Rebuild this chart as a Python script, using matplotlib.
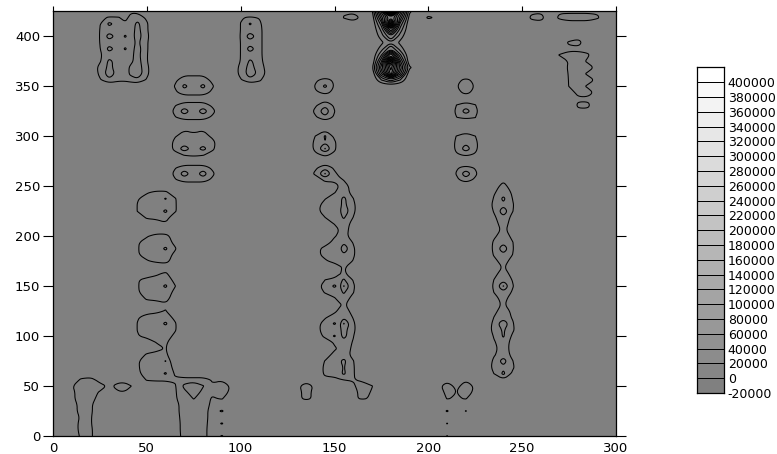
#!/usr/bin/env python
import numpy as np
import matplotlib
matplotlib.use('Agg')
import matplotlib.pyplot as plt
from matplotlib.path import Path

# grid nodes, z values below are in units of 5000
x_nodes = [0, 5, 10, 15, 20, 25, 30, 35, 38.5, 41.5, 45, 50, 55, 60, 65, 70, 75, 80, 85, 90, 95, 100,
           105, 110, 115, 120, 125, 130, 135, 140, 145, 150, 152.5, 155, 160, 165, 170, 175, 180, 185,
           190, 195, 200, 205, 210, 215, 220, 225, 230, 235, 240, 245, 250, 255, 260, 265, 270, 275,
           280, 285, 290, 295, 300]
y_step = 6.25
n_rows = 69

levels = [-20000, 0, 20000, 40000, 60000, 80000, 100000, 120000, 140000, 160000, 180000, 200000, 220000,
          240000, 260000, 280000, 300000, 320000, 340000, 360000, 380000, 400000, 420000]
x_ticks = [0, 50, 100, 150, 200, 250, 300]
y_ticks = [0, 50, 100, 150, 200, 250, 300, 350, 400]

# each patch: x nodes, first y, rows going upward
foot_x = [10, 15, 20, 25, 30, 35, 38.5, 41.5]
foot_y0 = 0
foot_z = [
    [0, 5, 5, 0, 0, 0, 0, 0],
    [0, 6, 5, 0, 0, 0, 0, 0],
    [0, 6, 4.5, 0, 0, 0, 0, 0],
    [0, 5, 4.5, 0, 0, 0, 0, 0],
    [0, 7, 5, 0, 0, 0, 0, 0],
    [0, 7, 5, 0, 0, 0, 0, 0],
    [3, 6, 6, 2, 0, 0, 0, 0],
    [3, 6, 6, 3.5, 0, 3.6, 3.6, 2],
    [3.7, 6, 6, 6, 3, 6, 6, 4.2],
    [0, 5, 6, 2, 0, 2, 2, 0],
]

base_x = [70, 75, 80, 85, 90, 95]
base_y0 = 0
base_z = [
    [6, 6, 6, 1, 4.5, 0],
    [6, 6, 6, 1, 0, 0],
    [6, 6, 6, 1.5, 4.5, 0],
    [6, 6, 6, 2, 0, 0],
    [6, 6, 6, 2, 4.7, 0],
    [6, 6, 6, 3, 0, 0],
    [6, 8.2, 6, 3.5, 4.5, 0],
    [7, 10, 7, 5, 6, 3],
    [9, 11, 8.2, 4.5, 6, 3.5],
    [6, 6, 6, 3.5, 3.6, 0],
]

ridge60_x = [45, 50, 55, 60, 65]
ridge60_y0 = 0
ridge60_z = [
    [0, 0, 0, 0, 1],
    [0, 0, 0, 0, 1.5],
    [0, 0, 0, 0, 1.5],
    [0, 0, 0, 0, 2],
    [0, 0, 0, 0, 2.5],
    [0, 0, 0, 0, 2.5],
    [0, 0, 0, 0, 3.5],
    [0, 0, 0, 0, 3.5],
    [0, 0, 0, 0, 3.5],
    [0, 4.5, 5, 5, 4.5],
    [3, 6, 6, 8.5, 3.5],
    [3.5, 6, 6, 6, 3],
    [3.5, 6, 6, 8.2, 0],
    [0, 5, 6, 5, 0],
    [0, 0, 2, 4.2, 0],
    [0, 0, 4.2, 5, 0],
    [3.5, 6, 6, 6, 3],
    [4.2, 6, 6, 6, 4.5],
    [4.2, 6, 6, 8.7, 4.5],
    [3.5, 6, 6, 6, 3],
    [0, 2, 3, 4.3, 0],
    [0, 0, 0, 3, 0],
    [0, 5, 6, 6, 1],
    [3.5, 6, 6, 6, 3],
    [3.7, 6, 6, 8.7, 4.2],
    [3.5, 6, 6, 6, 3],
    [0, 0, 3, 5, 0],
    [0, 0, 0, 0, 0],
    [0, 3.5, 5, 6, 1],
    [3.5, 6, 6, 6, 3],
    [3.7, 6, 6, 8.7, 4.5],
    [3.5, 6, 6, 6, 3],
    [0, 3.5, 6, 6, 1],
    [0, 0, 0, 0, 0],
    [0, 0, 0, 3.5, 0],
    [0, 5, 6, 6, 1],
    [4.2, 6, 6, 8.7, 4.6],
    [4.2, 6, 6, 6, 4.6],
    [3.6, 6, 6, 8.3, 4.5],
    [0, 3.5, 5, 5, 1],
]

pairs_x = [65, 70, 75, 80, 85]
pairs_y0 = 256.25
pairs_z = [
    [3.5, 6, 6, 6, 3],
    [5.5, 10, 6, 10, 5],
    [3.5, 6, 6, 6, 3],
    [0, 0, 0, 0, 0],
    [2, 4.3, 5, 4.3, 2],
    [5.5, 10.5, 6, 9.5, 5],
    [5.5, 6, 6, 6, 5.5],
    [3.6, 6, 6, 6, 3],
    [0, 3.8, 2, 3.8, 0],
    [0, 0, 0, 0, 0],
    [3.6, 6, 6, 6, 3],
    [5.5, 10, 6, 10, 5.5],
    [3.6, 6, 6, 6, 3],
    [0, 1, 1, 1, 0],
    [3.3, 6, 6, 6, 3],
    [4.3, 9, 6, 9, 4.5],
    [3.3, 6, 6, 6, 3],
    [0, 3, 3, 3, 0],
]

block30_x = [25, 30, 35, 38.5, 41.5, 45, 50]
block30_y0 = 356.25
block30_z = [
    [3.5, 7, 5, 5, 6, 7, 3.5],
    [5, 10.5, 6, 6, 9, 11, 5],
    [5.5, 9, 6, 6, 9, 10.5, 5],
    [3.5, 9, 6, 6, 7, 10, 4.3],
    [3.5, 6, 6, 6, 7, 9.5, 4.3],
    [3.8, 9.5, 6, 8.5, 6, 10, 4.5],
    [4.1, 6, 6, 6, 6, 9, 4.5],
    [4.2, 10, 6, 8.5, 6, 10, 5],
    [4.1, 6, 6, 6, 6, 9.5, 4.5],
    [3.8, 9, 6, 5, 6, 9, 4.5],
    [3, 4.5, 4.3, 2, 6, 6, 3.3],
    [0, 0, 0, 0, 3, 3, 0],
]

block105_x = [100, 105, 110, 115]
block105_y0 = 356.25
block105_z = [
    [3.5, 7, 5, 0],
    [5.5, 10, 7, 2],
    [5.5, 9.5, 6, 2],
    [4.2, 8.7, 6, 0],
    [4.1, 6, 5.5, 0],
    [4.1, 10, 5.5, 0],
    [4.1, 6, 5.5, 0],
    [4.3, 10.5, 5.5, 0],
    [4.1, 6, 5.5, 0],
    [4.1, 8.5, 5, 0],
    [3.7, 4.5, 3.7, 0],
]

lobes_x = [130, 135, 140, 145, 150, 152.5, 155, 160, 165, 170]
lobes_y0 = 37.5
lobes_z = [
    [3, 5, 3, 0, 0, 0, 0, 3.5, 4.5, 3.5],
    [3, 5, 3, 0, 0, 0, 0, 2.2, 6, 3.5],
    [3, 6, 3, 0, 0, 0, 0, 3.4, 6, 4.2],
    [0, 2, 0, 2.6, 2.6, 3.5, 4.1, 4.2, 3, 0],
]

ridge150_x = [140, 145, 150, 152.5, 155, 160, 165]
ridge150_y0 = 62.5
ridge150_z = [
    [0, 5, 6, 7, 8.7, 4.5, 0],
    [0, 5.2, 6, 7, 8.2, 4.5, 0],
    [0, 4.3, 6, 7.5, 9, 4.2, 0],
    [0, 1, 6, 6, 6, 2.7, 0],
    [0, 0, 3, 5, 6, 3.2, 0],
    [0, 0, 5, 6, 6, 3.7, 0],
    [0, 5.7, 8.4, 6.5, 9.5, 4.2, 0],
    [2.4, 6, 6, 7, 9.5, 5, 0],
    [2, 6, 8.4, 7, 12.3, 4.8, 0],
    [0, 3.5, 6, 7, 7.5, 3.7, 0],
    [0, 0, 3, 5, 6, 2.5, 0],
    [0, 0, 0, 3, 5, 0, 0],
    [0, 0, 3.5, 5.5, 6, 2.5, 0],
    [0, 4.6, 6, 7, 8.5, 4.2, 0],
    [2, 6, 8.6, 7, 12.3, 4.7, 0],
    [0, 4, 6, 7, 8.5, 3.7, 0],
    [0, 0, 0, 3.5, 5, 0, 0],
    [0, 0, 0, 3, 4.7, 0, 0],
    [0, 3, 6, 6.5, 7, 3.7, 0],
    [2, 6, 6, 7, 7.5, 4.7, 0],
    [2, 6, 6, 7, 11, 4.7, 0],
    [0, 1.2, 6, 6.5, 7.5, 3.7, 0],
    [0, 0, 3.5, 5, 6, 1.2, 0],
    [0, 0, 0, 4.1, 6, 1.7, 0],
    [0, 0, 4.5, 5, 6, 2.7, 0],
    [0, 4, 6, 7, 8.5, 3.9, 0],
    [2.6, 6, 6, 7, 11, 5, 0],
    [2, 6, 6, 7, 9, 5, 0],
    [0, 3.8, 6, 7, 9, 4.1, 0],
    [0, 0, 3.8, 5, 6, 2.5, 0],
    [0, 0, 0, 4.2, 6, 2, 0],
    [0, 5.5, 6, 5, 3.8, 0, 0],
    [5.5, 12.3, 5, 3, 0, 0, 0],
    [3, 7, 3, 0, 0, 0, 0],
]

upper145_x = [140, 145, 150, 152.5]
upper145_y0 = 281.25
upper145_z = [
    [3, 4.8, 3, 0],
    [5.6, 12.3, 4.8, 2],
    [5.6, 7.9, 4.8, 2],
    [4.3, 8.5, 3, 0],
    [0, 3.5, 0, 0],
    [0, 0, 0, 0],
    [3.3, 7, 3.3, 0],
    [5.7, 11, 4.2, 0],
    [3.3, 7, 3.3, 0],
    [0, 2, 0, 0],
    [3.6, 4.6, 3.5, 0],
    [4.6, 9, 3.7, 0],
    [3.4, 5.5, 3.4, 0],
]

top160_x = [155, 160, 165]
top160_y0 = 412.5
top160_z = [
    [0, 2, 0],
    [4.5, 6, 3],
    [3, 3, 1],
]

peak180_x = [170, 175, 180, 185, 190]
peak180_y0 = 356.25
peak180_z = [
    [0, 8, 14, 8, 0],
    [0, 20, 46, 21, 0],
    [3, 26, 50, 27, 5],
    [0, 20, 62, 21, 0],
    [0, 12, 36, 13, 0],
    [0, 6, 16, 6, 0],
    [0, 3, 8, 3, 0],
    [0, 6, 16, 6, 0],
    [0, 9, 30, 10, 0],
    [0, 14, 60, 15, 0],
    [1, 22, 40, 23, 2],
    [3, 30, 80, 31, 5],
]

top200_x = [200, 205]
top200_y0 = 418.75
top200_z = [[5, 3]]

butterfly_x = [205, 210, 215, 220, 225]
butterfly_y0 = 0
butterfly_z = [
    [0, 4.3, 0, 0, 0],
    [0, 0, 0, 0, 0],
    [0, 4.3, 0, 0, 0],
    [0, 0, 0, 0, 0],
    [0, 4.6, 0, 4.3, 0],
    [0, 0, 0, 0, 0],
    [0, 4.3, 3.5, 4.4, 0],
    [2, 5, 4, 6, 3],
    [2.7, 6, 3, 6, 3.4],
    [0, 2.5, 0, 3.5, 0],
]

ridge220_x = [215, 220, 225]
ridge220_y0 = 256.25
ridge220_z = [
    [3.2, 6, 3.1],
    [4.3, 11, 5],
    [3.6, 5, 3.6],
    [0, 0, 0],
    [3.5, 4.5, 3.5],
    [5, 10.5, 5.2],
    [5, 7, 5.2],
    [4.2, 6, 4.1],
    [0, 2, 0],
    [0, 0, 0],
    [3.9, 5, 4.1],
    [5, 10, 5.5],
    [4, 6, 4.2],
    [0, 1, 0],
    [3, 5, 3],
    [3.8, 6, 3.7],
    [3, 5, 3],
]

ridge240_x = [235, 240, 245]
ridge240_y0 = 56.25
ridge240_z = [
    [0, 3.5, 0],
    [4.1, 9, 3],
    [5.6, 7, 4.7],
    [5, 10, 4.1],
    [3.6, 6, 3],
    [2.9, 6, 2.4],
    [3.6, 6, 2.7],
    [4.4, 8.5, 3.1],
    [5.7, 8.5, 4.7],
    [5.3, 11.5, 4.4],
    [4.1, 6, 3.6],
    [2.9, 6, 3],
    [1.4, 5, 0],
    [2, 6, 1],
    [4.1, 7, 3.4],
    [4.8, 12.3, 4.3],
    [4.1, 7, 3.7],
    [2.7, 6, 2.4],
    [1, 4.5, 1],
    [2.7, 6, 2],
    [4.4, 7, 3.9],
    [5, 11, 4.3],
    [4.7, 7, 4.1],
    [3.3, 6, 3],
    [1.9, 5, 1.9],
    [2.4, 6, 2],
    [3.2, 7, 2.6],
    [4.4, 11, 4.1],
    [5.3, 7, 4.4],
    [4.4, 9, 3.8],
    [3.6, 6, 3.5],
    [1.6, 6, 1],
    [0, 3, 0],
]

right_x = [255, 260, 265, 270, 275, 280, 285, 290]
right_y0 = 325
right_z = [
    [0, 0, 0, 0, 0, 3, 3, 0],
    [0, 0, 0, 0, 0, 5, 5, 0],
    [0, 0, 0, 0, 0, 3, 3, 0],
    [0, 0, 0, 0, 1, 6, 6, 2.3],
    [0, 0, 0, 0, 4.2, 6, 3.2, 0],
    [0, 0, 0, 0, 4.3, 6, 6, 3],
    [0, 0, 0, 0, 4.5, 6, 3.2, 0],
    [0, 0, 0, 0, 5, 6, 6, 2.7],
    [0, 0, 0, 0, 4.5, 6, 3.2, 0],
    [0, 0, 0, 4.5, 6, 6, 4.6, 0],
    [0, 0, 0, 0, 2.5, 2.5, 2.5, 0],
    [0, 0, 0, 0, 5, 6, 0, 0],
    [0, 0, 0, 0, 0, 2, 0, 0],
    [0, 0, 0, 0, 0, 0, 0, 0],
    [2, 2, 0, 0, 2, 2, 2, 0],
    [5, 6, 0, 5.5, 6, 6, 6, 5],
    [3, 3, 0, 3, 3, 3, 3, 3],
]

patches = [(foot_x, foot_y0, foot_z), (base_x, base_y0, base_z), (ridge60_x, ridge60_y0, ridge60_z),
           (pairs_x, pairs_y0, pairs_z), (block30_x, block30_y0, block30_z),
           (block105_x, block105_y0, block105_z), (lobes_x, lobes_y0, lobes_z),
           (ridge150_x, ridge150_y0, ridge150_z), (upper145_x, upper145_y0, upper145_z),
           (top160_x, top160_y0, top160_z), (peak180_x, peak180_y0, peak180_z),
           (top200_x, top200_y0, top200_z), (butterfly_x, butterfly_y0, butterfly_z),
           (ridge220_x, ridge220_y0, ridge220_z), (ridge240_x, ridge240_y0, ridge240_z),
           (right_x, right_y0, right_z)]

y_nodes = np.arange(n_rows) * y_step
z = np.zeros((n_rows, len(x_nodes)))
for px, py0, pz in patches:
    cols = np.searchsorted(x_nodes, px)
    first = int(round(py0 / y_step))
    for k, row in enumerate(pz):
        z[first + k, cols] = row
z = z * 5000


def round_corners(v):
    # corner cutting, the reference contours are smooth curves
    closed = np.allclose(v[0], v[-1])
    pts = v[:-1] if closed else v
    if len(pts) < 3:
        return v
    nxt = np.roll(pts, -1, axis=0) if closed else pts[1:]
    cur = pts if closed else pts[:-1]
    q = 0.75 * cur + 0.25 * nxt
    r = 0.25 * cur + 0.75 * nxt
    out = np.empty((2 * len(cur), 2))
    out[0::2] = q
    out[1::2] = r
    if closed:
        return np.vstack([out, out[:1]])
    return np.vstack([pts[:1], out, pts[-1:]])


W, H = 777.0, 454.0
fig = plt.figure(figsize=(7.77, 4.54), dpi=100)
ax = fig.add_axes([53 / W, 1 - 436 / H, 563 / W, 424.7 / H])
ax.set_facecolor('#808080')
cs = ax.contour(x_nodes, y_nodes, z, levels=levels[2:-1], colors='black', linewidths=0.75)
smooth = []
for p in cs.get_paths():
    parts = []
    for poly in p.to_polygons(closed_only=False):
        for i in range(2):
            poly = round_corners(poly)
        parts.append(Path(poly))
    smooth.append(Path.make_compound_path(*parts) if parts else p)
cs.set_paths(smooth)

ax.set_xlim(0, 300)
ax.set_ylim(0, 425)
ax.set_xticks(x_ticks)
ax.set_yticks(y_ticks)
ax.tick_params(axis='y', which='both', left=True, right=True, length=7.2, width=0.8, labelsize=9.5, pad=2)
ax.tick_params(axis='x', which='both', top=True, bottom=False, length=3.6, width=0.8, labelsize=9.5, pad=1)
for s in ax.spines.values():
    s.set_linewidth(0.9)

cax = fig.add_axes([697 / W, 1 - 393 / H, 26.7 / W, 325.7 / H])
shades = np.linspace(0.5, 1.0, len(levels) - 1).reshape(-1, 1)
cax.pcolormesh([0, 1], levels, shades, cmap='gray', vmin=0, vmax=1, edgecolors='black', linewidth=0.7)
cax.set_xlim(0, 1)
cax.set_ylim(levels[0], levels[-1])
cax.set_xticks([])
cax.yaxis.tick_right()
cax.set_yticks(levels[:-1])
cax.tick_params(axis='y', length=0, labelsize=9, pad=3)
cax.yaxis.set_ticklabels([str(v) for v in levels[:-1]])
for s in cax.spines.values():
    s.set_linewidth(0.9)

fig.savefig('out.png', dpi=100)
